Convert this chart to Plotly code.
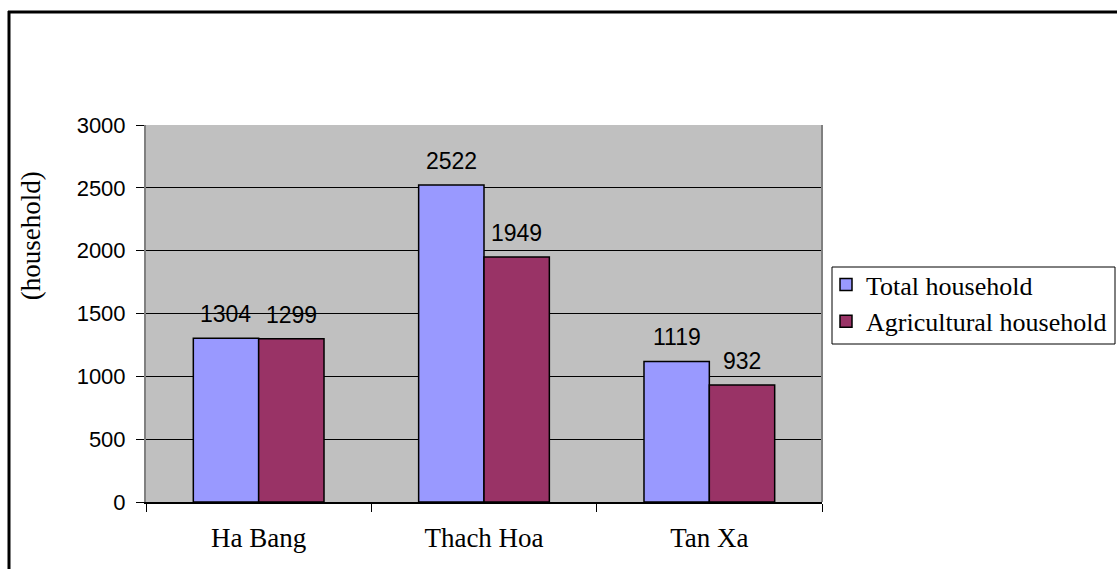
import plotly.graph_objects as go

# Household counts per commune
communes = ["Ha Bang", "Thach Hoa", "Tan Xa"]
total_households = [1304, 2522, 1119]
agri_households = [1299, 1949, 932]
y_ticks = [0, 500, 1000, 1500, 2000, 2500, 3000]

BAR_W = 0.29
positions = list(range(len(communes)))

fig = go.Figure()
fig.add_trace(go.Bar(
    x=positions, y=total_households, name="Total household",
    width=BAR_W, offset=-BAR_W,
    marker=dict(color="#9999FF", line=dict(color="#000000", width=1.5)),
))
fig.add_trace(go.Bar(
    x=positions, y=agri_households, name="Agricultural household",
    width=BAR_W, offset=0,
    marker=dict(color="#993366", line=dict(color="#000000", width=1.5)),
))

# value labels above each bar
annotations = []
for i, (t, a) in enumerate(zip(total_households, agri_households)):
    for xv, yv in ((i - BAR_W / 2, t), (i + BAR_W / 2, a)):
        annotations.append(dict(
            x=xv, y=yv, xref="x", yref="y", text=str(yv), showarrow=False,
            xanchor="center", yanchor="middle",
            yshift=24, font=dict(family="Liberation Sans, Arial", size=23, color="#000"),
        ))

# rotated y-axis caption
annotations.append(dict(
    x=-0.169, y=0.707, xref="paper", yref="paper", text="(household)",
    textangle=-90, showarrow=False, xanchor="center", yanchor="middle",
    font=dict(family="Liberation Serif, Times New Roman", size=27, color="#000"),
))

L, T, R, B = 146, 125, 822, 502
W, H = 1117, 569
pw, ph = R - L, B - T

def px(xp):
    return (xp - L) / pw

def py(yp):
    return (B - yp) / ph

shapes = [
    # outer frame (left and top edges)
    dict(type="line", xref="paper", yref="paper", x0=px(9), x1=px(9), y0=py(11), y1=py(H + 5),
         line=dict(color="#000", width=3)),
    dict(type="line", xref="paper", yref="paper", x0=px(8), x1=px(W + 5), y0=py(12), y1=py(12),
         line=dict(color="#000", width=3)),
    # right edge of plot area
    dict(type="line", xref="paper", yref="paper", x0=1, x1=1, y0=0, y1=1,
         line=dict(color="#808080", width=2)),
    # legend frame
    dict(type="rect", xref="paper", yref="paper", x0=px(832), x1=px(1115), y0=py(344), y1=py(267),
         line=dict(color="#000", width=1), fillcolor="#FFFFFF", layer="below"),
]

fig.update_layout(
    width=W, height=H,
    margin=dict(l=L, r=W - R, t=T, b=H - B, pad=0, autoexpand=False),
    paper_bgcolor="#FFFFFF",
    plot_bgcolor="#C0C0C0",
    barmode="overlay",
    showlegend=True,
    legend=dict(
        x=px(826), y=py(261), xanchor="left", yanchor="top",
        borderwidth=0, bgcolor="rgba(0,0,0,0)",
        font=dict(family="Liberation Serif, Times New Roman", size=26, color="#000"),
        itemwidth=30, tracegroupgap=0,
    ),
    annotations=annotations,
    shapes=shapes,
    xaxis=dict(
        range=[-0.5, 2.5],
        tickvals=positions, ticktext=communes,
        ticks="", showgrid=False, zeroline=False,
        showline=True, linecolor="#000", linewidth=2,
        tickfont=dict(family="Liberation Serif, Times New Roman", size=27, color="#000"),
        ticklabelstandoff=11,
        minor=dict(tickvals=[-0.5, 0.5, 1.5, 2.5], ticks="outside", ticklen=8,
                   tickcolor="#000", tickwidth=1, showgrid=False),
    ),
    yaxis=dict(
        range=[0, 3000], tickvals=y_ticks,
        ticks="outside", ticklen=8, tickcolor="#000", tickwidth=1,
        showgrid=True, gridcolor="#000", gridwidth=1,
        zeroline=False,
        showline=True, linecolor="#808080", linewidth=2,
        tickfont=dict(family="Liberation Sans, Arial", size=22, color="#000"),
        ticklabelstandoff=6,
    ),
)

fig.write_html("out.html")
